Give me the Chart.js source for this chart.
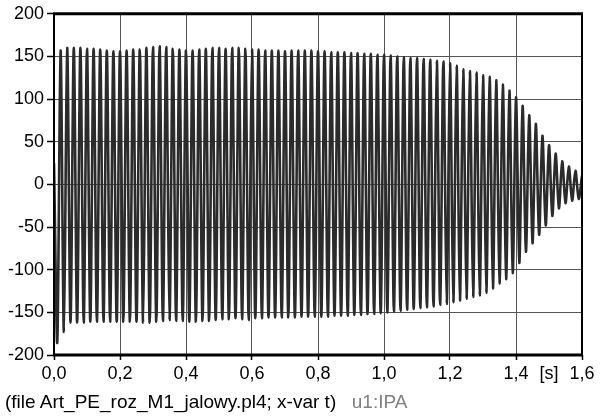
<!DOCTYPE html>
<html>
<head>
<meta charset="utf-8">
<script src="https://cdn.jsdelivr.net/npm/chart.js@4"></script>
<style>
  html, body { margin: 0; padding: 0; background: #fff; }
  #wrap { position: relative; width: 601px; height: 416px; overflow: hidden; }
  #c { position: absolute; left: 0; top: 0; }
  #cap { position: absolute; left: 5px; top: 392px; font-family: "Liberation Sans", Arial, sans-serif;
         font-size: 19px; line-height: 19px; color: #000; white-space: pre; }
  #cap .var { color: #808080; margin-left: 5px; }
</style>
</head>
<body>
<div id="wrap">
  <canvas id="c" width="601" height="416"></canvas>
  <div id="cap">(file Art_PE_roz_M1_jalowy.pl4; x-var t)  <span class="var">u1:IPA</span></div>
</div>
<script>
// ---- data ----
const periodSec = 0.02;           // one cycle of the 50 Hz current
const startValue = 25;            // current at t = 0
// positive peaks, at t = 0.02, 0.04, ... 1.60
const positivePeaks = [
  157, 160, 160, 160, 159, 159, 158, 157, 156, 156,
  157, 158, 158, 160, 161, 162, 161, 159, 158, 157,
  157, 158, 159, 160, 160, 159, 160, 160, 159, 158,
  158, 157, 157, 157, 156, 157, 157, 157, 157, 156,
  156, 155, 155, 155, 154, 154, 153, 153, 152, 152,
  151, 150, 149, 148, 148, 147, 146, 145, 144, 142,
  139, 135, 133, 131, 128, 126, 122, 117, 110, 102,
  92, 81, 71, 57, 46, 36, 27, 21, 16, 10
];
// negative peaks, at t = 0.01, 0.03, ... 1.59
const negativePeaks = [
  -185, -173, -162, -162, -162, -161, -161, -161, -161, -161,
  -161, -161, -161, -162, -162, -161, -160, -159, -160, -160,
  -161, -161, -160, -160, -159, -158, -158, -157, -158, -159,
  -157, -157, -156, -156, -156, -156, -156, -155, -155, -155,
  -155, -155, -154, -154, -154, -153, -153, -152, -152, -151,
  -150, -149, -148, -147, -146, -145, -144, -143, -141, -140,
  -138, -136, -134, -132, -130, -127, -122, -116, -111, -104,
  -92, -79, -69, -59, -48, -37, -28, -22, -19, -17
];
const xTicks = [0, 0.2, 0.4, 0.6, 0.8, 1.0, 1.2, 1.4, 1.6];
const xUnitAt = 1.5;
const xUnitLabel = '[s]';
const yTicks = [-200, -150, -100, -50, 0, 50, 100, 150, 200];

// ---- build the series ----
const points = [{ x: 0, y: startValue }];
for (let k = 0; k < negativePeaks.length; k++) {
  points.push({ x: +(k * periodSec + periodSec / 2).toFixed(3), y: negativePeaks[k] });
  points.push({ x: +((k + 1) * periodSec).toFixed(3), y: positivePeaks[k] });
}

const fmt = v => v.toFixed(1).replace('.', ',');
const isUnit = v => Math.abs(v - xUnitAt) < 1e-6;

const framePlugin = {
  id: 'frame',
  afterDraw(chart) {
    const { ctx, chartArea: a } = chart;
    ctx.save();
    ctx.strokeStyle = '#000';
    ctx.lineWidth = 3;
    ctx.beginPath();
    ctx.moveTo(a.left - 1, a.top); ctx.lineTo(a.right + 1, a.top);
    ctx.moveTo(a.left - 1, a.bottom); ctx.lineTo(a.right + 1, a.bottom);
    ctx.stroke();
    ctx.lineWidth = 2;
    ctx.beginPath();
    ctx.moveTo(a.left, a.top); ctx.lineTo(a.left, a.bottom);
    ctx.moveTo(a.right, a.top); ctx.lineTo(a.right, a.bottom);
    ctx.stroke();
    ctx.restore();
  }
};

const font = { family: '"Liberation Sans", Arial, sans-serif', size: 18 };

new Chart(document.getElementById('c'), {
  type: 'line',
  data: {
    datasets: [{
      data: points,
      borderColor: '#2b2b2b',
      borderWidth: 2.6,
      pointRadius: 0,
      tension: 0.3,
      fill: false
    }]
  },
  options: {
    responsive: false,
    animation: false,
    events: [],
    layout: { padding: { left: 0, right: 19, top: 13, bottom: 0 } },
    plugins: { legend: { display: false }, tooltip: { enabled: false } },
    scales: {
      x: {
        type: 'linear',
        min: 0, max: 1.6,
        afterBuildTicks(scale) {
          const t = xTicks.map(v => ({ value: v }));
          t.push({ value: xUnitAt });
          t.sort((a, b) => a.value - b.value);
          scale.ticks = t;
        },
        afterFit(scale) { scale.height = 61; },
        border: { display: false },
        grid: {
          color: c => (c.tick && (isUnit(c.tick.value) || c.tick.value === 0 || c.tick.value === 1.6)) ? 'rgba(0,0,0,0)' : '#555',
          borderDash: [1, 3],
          lineWidth: 1,
          tickLength: 5,
          tickColor: c => (c.tick && isUnit(c.tick.value)) ? 'rgba(0,0,0,0)' : '#000',
          tickBorderDash: [],
          tickWidth: 1.5,
          drawOnChartArea: true
        },
        ticks: {
          autoSkip: false, maxRotation: 0, padding: 3,
          color: '#000', font,
          callback: v => isUnit(v) ? xUnitLabel : fmt(v)
        }
      },
      y: {
        min: -200, max: 200,
        afterBuildTicks(scale) { scale.ticks = yTicks.map(v => ({ value: v })); },
        afterFit(scale) { scale.width = 54; },
        border: { display: false },
        grid: {
          color: c => (c.tick && Math.abs(c.tick.value) === 200) ? 'rgba(0,0,0,0)' : '#555',
          borderDash: [1, 3],
          lineWidth: 1,
          tickLength: 7,
          tickColor: '#000',
          tickBorderDash: [],
          tickWidth: 1.5
        },
        ticks: {
          padding: 3, color: '#000', font,
          callback: v => String(v)
        }
      }
    }
  },
  plugins: [framePlugin]
});
</script>
</body>
</html>
